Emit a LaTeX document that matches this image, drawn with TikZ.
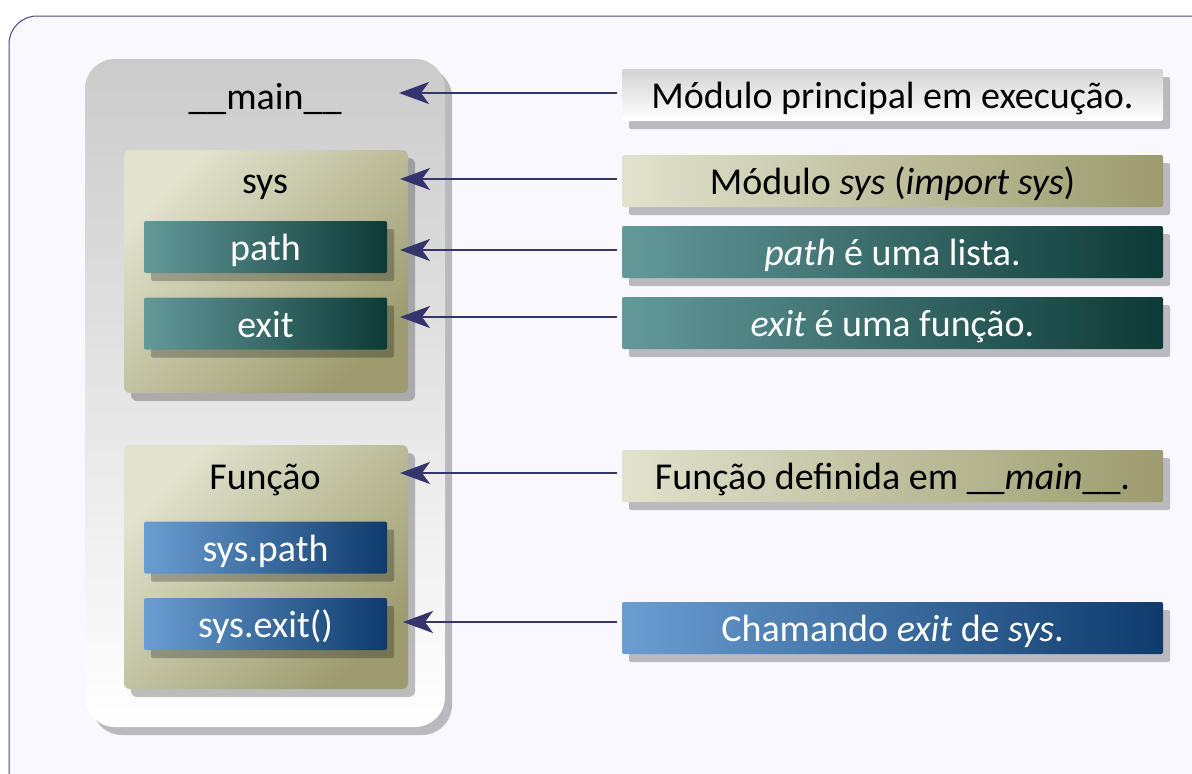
\documentclass[tikz,border=0pt]{standalone}
\usepackage{fontspec}
\setmainfont{Carlito}
\usetikzlibrary{arrows.meta,shadows}
\definecolor{framebg}{HTML}{F8F8FE}
\definecolor{frameline}{HTML}{4A4A7A}
\definecolor{arrcol}{HTML}{35356E}
\definecolor{khakiL}{HTML}{E2E2CE}
\definecolor{khakiD}{HTML}{9C9C6E}
\definecolor{tealL}{HTML}{64999A}
\definecolor{tealD}{HTML}{0C3A36}
\definecolor{blueL}{HTML}{6A9ED2}
\definecolor{blueD}{HTML}{0E3A6C}
\definecolor{panelT}{HTML}{CBCBCB}
\definecolor{greyT}{HTML}{D4D4D4}
\tikzset{
  x=1pt, y=-1pt,
  txt/.style={font=\fontsize{38}{46}\selectfont,text height=30pt,text depth=3pt},
  shad/.style={drop shadow={shadow xshift=7pt,shadow yshift=-8pt,fill=black,opacity=0.25}},
  khakibox/.style={shad,rounded corners=6pt,top color=khakiL,bottom color=khakiD,shading angle=45,inner sep=0pt},
  khakiwide/.style={shad,rounded corners=2pt,left color=khakiL,right color=khakiD,inner sep=0pt},
  tealbox/.style={shad,rounded corners=2pt,left color=tealL,right color=tealD,txt,text=white,inner sep=0pt},
  bluebox/.style={shad,rounded corners=2pt,left color=blueL,right color=blueD,txt,text=white,inner sep=0pt},
  greybox/.style={shad,rounded corners=2pt,top color=greyT,bottom color=white,txt,inner sep=0pt},
  rbox/.style={minimum width=541pt,minimum height=52pt},
  ibox/.style={minimum width=243pt,minimum height=52pt},
  arr/.style={draw=arrcol,line width=2.6pt,-{Stealth[length=30pt,width=22pt,inset=8pt]},shorten <=5pt},
}
\begin{document}
\begin{tikzpicture}
\useasboundingbox (0,0) rectangle (1192,774);
\clip (0,0) rectangle (1192,774);
\fill[white] (0,0) rectangle (1192,774);
% outer frame
\draw[frameline,fill=framebg,line width=1pt,rounded corners=28pt] (9,16) rectangle (1230,820);

% main panel
\node[shad,rounded corners=30pt,top color=panelT,bottom color=white,minimum width=360pt,minimum height=668pt,inner sep=0pt] (main) at (265,393) {};
\node[txt] (mainlbl) at (265,96) {\_\_main\_\_};

% sys module
\node[khakibox,minimum width=284pt,minimum height=243pt] (sysbox) at (266,271.5) {};
\node[txt] (syslbl) at (265,180) {sys};
\node[tealbox,ibox] (path) at (265.5,247) {path};
\node[tealbox,ibox] (exit) at (265.5,323.5) {exit};

% function
\node[khakibox,minimum width=284pt,minimum height=244pt] (funbox) at (266,567) {};
\node[txt] (funlbl) at (265,476) {Função};
\node[bluebox,ibox] (spath) at (265.5,547.5) {sys.path};
\node[bluebox,ibox] (sexit) at (265.5,624) {sys.exit()};

% right descriptions
\node[greybox,rbox] (r1) at (892.5,95) {Módulo principal em execução.};
\node[khakiwide,rbox,txt] (r2) at (892.5,181) {Módulo \textit{sys} (\textit{import sys})};
\node[tealbox,rbox] (r3) at (892.5,252) {\textit{path} é uma lista.};
\node[tealbox,rbox] (r4) at (892.5,323) {\textit{exit} é uma função.};
\node[khakiwide,rbox,txt] (r5) at (892.5,476) {Função definida em \_\_\textit{main}\_\_.};
\node[bluebox,rbox] (r6) at (892.5,628) {Chamando \textit{exit} de \textit{sys}.};

% arrow tips
\coordinate (t1) at (399,93);
\coordinate (t2) at (400,179);
\coordinate (t3) at (400,250);
\coordinate (t4) at (400,317);
\coordinate (t5) at (400,473);
\coordinate (t6) at (403,622);

\draw[arr] (r1.west |- t1) -- (t1);
\draw[arr] (r2.west |- t2) -- (t2);
\draw[arr] (r3.west |- t3) -- (t3);
\draw[arr] (r4.west |- t4) -- (t4);
\draw[arr] (r5.west |- t5) -- (t5);
\draw[arr] (r6.west |- t6) -- (t6);
\end{tikzpicture}
\end{document}
